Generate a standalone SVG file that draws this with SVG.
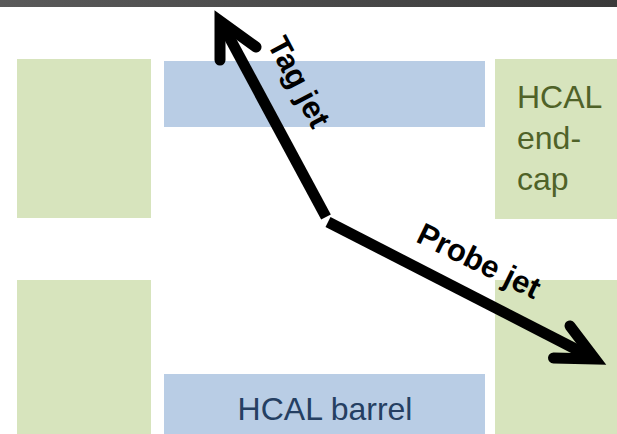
<svg xmlns="http://www.w3.org/2000/svg" width="617" height="434" viewBox="0 0 617 434">
<defs>
<linearGradient id="bar" x1="0" y1="0" x2="1" y2="0">
<stop offset="0" stop-color="#5a5a5a"/>
<stop offset="1" stop-color="#3a3a3a"/>
</linearGradient>
</defs>
<style>
.endcap{fill:#D7E4BD}
.barrel{fill:#B9CDE5}
.jet{fill:none;stroke:#000;stroke-width:11}
.head{fill:none;stroke:#000;stroke-width:11;stroke-linecap:round;stroke-linejoin:miter;stroke-miterlimit:10}
.lbl{font-family:"Liberation Sans",Arial,sans-serif;font-size:32px}
.jl{font-family:"Liberation Sans",Arial,sans-serif;font-size:31px;font-weight:bold;fill:#000}
</style>
<rect x="0" y="0" width="617" height="7" fill="url(#bar)"/>
<g id="endcap-top-left"><rect class="endcap" x="17" y="59" width="134" height="159"/></g>
<g id="endcap-bottom-left"><rect class="endcap" x="17" y="280" width="134" height="154"/></g>
<g id="endcap-top-right"><rect class="endcap" x="495" y="59" width="122" height="160"/>
<text class="lbl" fill="#4F6228"><tspan x="517" y="108">HCAL</tspan><tspan x="517" y="149">end-</tspan><tspan x="517" y="190">cap</tspan></text></g>
<g id="endcap-bottom-right"><rect class="endcap" x="495" y="280" width="122" height="154"/></g>
<g id="barrel-top"><rect class="barrel" x="164" y="61" width="321" height="66"/></g>
<g id="barrel-bottom"><rect class="barrel" x="164" y="374" width="321" height="60"/>
<text class="lbl" fill="#253F62" x="325" y="420" text-anchor="middle">HCAL barrel</text></g>
<g id="connectors">
<g id="tag-jet">
<line class="jet" x1="326" y1="217" x2="221" y2="22"/>
<polyline class="head" points="220,60 220,21 256,47"/>
<text class="jl" transform="translate(299,82) rotate(62)" text-anchor="middle" dominant-baseline="central">Tag jet</text>
</g>
<g id="probe-jet">
<line class="jet" x1="328" y1="222" x2="593" y2="358"/>
<polyline class="head" points="570,326 595,359 553.5,358"/>
<text class="jl" transform="translate(479,261) rotate(26)" text-anchor="middle" dominant-baseline="central">Probe jet</text>
</g>
</g>
</svg>
